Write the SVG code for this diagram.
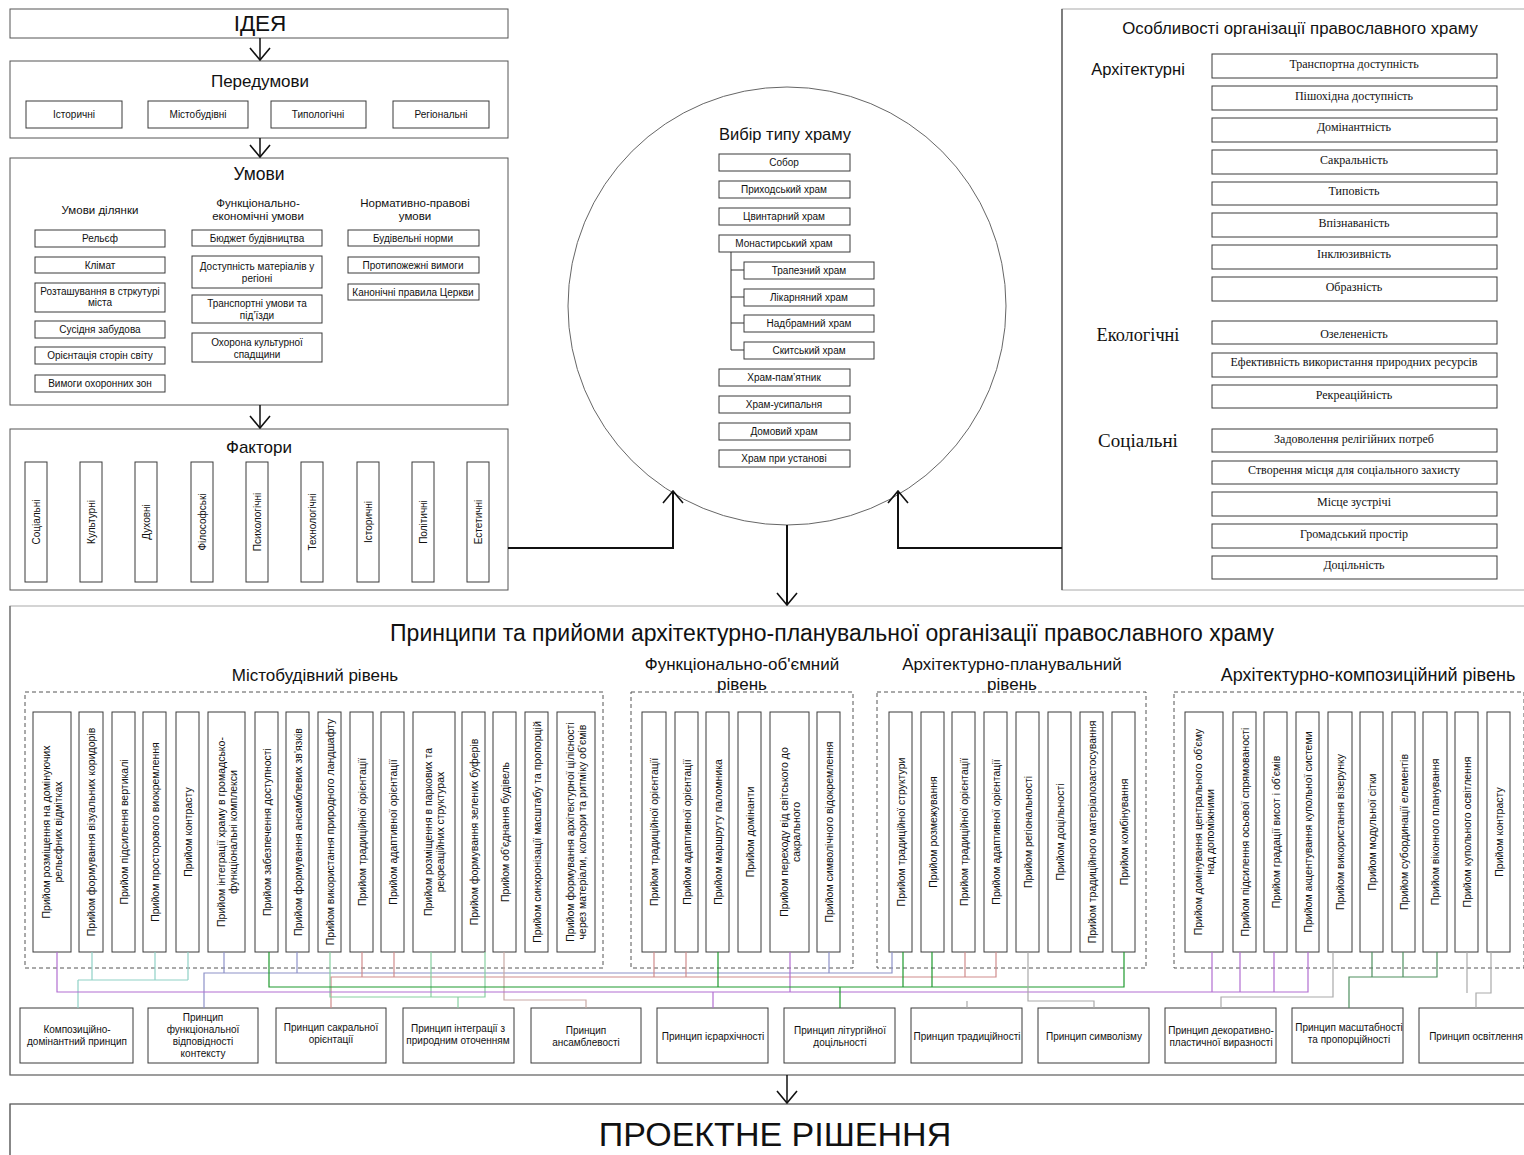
<svg xmlns="http://www.w3.org/2000/svg" width="1524" height="1155" viewBox="0 0 1524 1155">
<style>
.bg{fill:#fff}
.panel{fill:none;stroke:#555;stroke-width:1}
.lpanel{fill:none;stroke:#aaa;stroke-width:1}
.box{fill:#fff;stroke:#3a3a3a;stroke-width:1}
.dash{fill:none;stroke:#555;stroke-width:1;stroke-dasharray:4 3}
text{font-family:"Liberation Sans",Arial,sans-serif;fill:#111}
.serif{font-family:"Liberation Serif","Times New Roman",serif}
.s10{font-size:10px}
.s105{font-size:10.5px}
.s11{font-size:11px}
.s115{font-size:11.5px}
.s12{font-size:12px}
.s17{font-size:17px}
.c{text-anchor:middle}
.arrow{fill:none;stroke:#111;stroke-width:1.5}
.main{fill:none;stroke:#111;stroke-width:2}
.cn{fill:none;stroke-width:1.2}
</style>
<defs>
<marker id="v" viewBox="0 0 14 22" refX="13" refY="11" markerWidth="14" markerHeight="22" markerUnits="userSpaceOnUse" orient="auto">
<path d="M1,1 L13,11 L1,21" fill="none" stroke="#111" stroke-width="1.6"/>
</marker>
</defs>
<rect class="bg" x="0" y="0" width="1524" height="1155"/>

<!-- ІДЕЯ -->
<g id="idea">
<rect class="panel" x="10" y="9" width="498" height="29"/>
<text class="c" x="260" y="31" style="font-size:22.5px">ІДЕЯ</text>
</g>

<!-- Передумови -->
<g id="peredumovy">
<rect class="panel" x="10" y="61" width="498" height="77"/>
<text class="c s17" x="260" y="87">Передумови</text>
<rect class="box" x="26" y="101" width="96" height="27"/>
<text class="c s10" x="74" y="118">Історичні</text>
<rect class="box" x="148" y="101" width="100" height="27"/>
<text class="c s10" x="198" y="118">Містобудівні</text>
<rect class="box" x="271" y="101" width="95" height="27"/>
<text class="c s10" x="318" y="118">Типологічні</text>
<rect class="box" x="393" y="101" width="96" height="27"/>
<text class="c s10" x="441" y="118">Регіональні</text>
</g>

<!-- Умови -->
<g id="umovy">
<rect class="panel" x="10" y="158" width="498" height="247"/>
<text class="c" x="259" y="180" style="font-size:17.5px">Умови</text>
<text class="c s115" x="100" y="214">Умови ділянки</text>
<text class="c s115" x="258" y="207">Функціонально-</text>
<text class="c s115" x="258" y="220">економічні умови</text>
<text class="c s115" x="415" y="207">Нормативно-правові</text>
<text class="c s115" x="415" y="220">умови</text>
<rect class="box" x="35" y="230" width="130" height="17"/><text class="c s10" x="100" y="242">Рельєф</text>
<rect class="box" x="35" y="257" width="130" height="16"/><text class="c s10" x="100" y="269">Клімат</text>
<rect class="box" x="35" y="283" width="130" height="29"/><text class="c s10" x="100" y="295">Розташування в стркутурі</text><text class="c s10" x="100" y="306">міста</text>
<rect class="box" x="35" y="321" width="130" height="17"/><text class="c s10" x="100" y="333">Сусідня забудова</text>
<rect class="box" x="35" y="347" width="130" height="17"/><text class="c s10" x="100" y="359">Орієнтація сторін світу</text>
<rect class="box" x="35" y="375" width="130" height="17"/><text class="c s10" x="100" y="387">Вимоги охоронних зон</text>
<rect class="box" x="192" y="230" width="130" height="16"/><text class="c s10" x="257" y="242">Бюджет будівництва</text>
<rect class="box" x="192" y="256" width="130" height="32"/><text class="c s10" x="257" y="270">Доступність матеріалів у</text><text class="c s10" x="257" y="282">регіоні</text>
<rect class="box" x="192" y="295" width="130" height="28"/><text class="c s10" x="257" y="307">Транспортні умови та</text><text class="c s10" x="257" y="319">під’їзди</text>
<rect class="box" x="192" y="333" width="130" height="29"/><text class="c s10" x="257" y="346">Охорона культурної</text><text class="c s10" x="257" y="358">спадщини</text>
<rect class="box" x="348" y="230" width="131" height="16"/><text class="c s10" x="413" y="242">Будівельні норми</text>
<rect class="box" x="348" y="257" width="131" height="16"/><text class="c s10" x="413" y="269">Протипожежні вимоги</text>
<rect class="box" x="348" y="284" width="131" height="16"/><text class="c s10" x="413" y="296">Канонічні правила Церкви</text>
</g>

<!-- Фактори -->
<g id="faktory">
<rect class="panel" x="10" y="429" width="498" height="161"/>
<text class="c s17" x="259" y="453">Фактори</text>
<rect class="box" x="25" y="462" width="22" height="120"/><text class="c s10" transform="translate(36,522) rotate(-90)" dy="3.5">Соціальні</text>
<rect class="box" x="80" y="462" width="22" height="120"/><text class="c s10" transform="translate(91,522) rotate(-90)" dy="3.5">Культурні</text>
<rect class="box" x="135" y="462" width="22" height="120"/><text class="c s10" transform="translate(146,522) rotate(-90)" dy="3.5">Духовні</text>
<rect class="box" x="191" y="462" width="22" height="120"/><text class="c s10" transform="translate(202,522) rotate(-90)" dy="3.5">Філософські</text>
<rect class="box" x="246" y="462" width="22" height="120"/><text class="c s10" transform="translate(257,522) rotate(-90)" dy="3.5">Психологічні</text>
<rect class="box" x="301" y="462" width="22" height="120"/><text class="c s10" transform="translate(312,522) rotate(-90)" dy="3.5">Технологічні</text>
<rect class="box" x="357" y="462" width="22" height="120"/><text class="c s10" transform="translate(368,522) rotate(-90)" dy="3.5">Історичні</text>
<rect class="box" x="412" y="462" width="22" height="120"/><text class="c s10" transform="translate(423,522) rotate(-90)" dy="3.5">Політичні</text>
<rect class="box" x="467" y="462" width="22" height="120"/><text class="c s10" transform="translate(478,522) rotate(-90)" dy="3.5">Естетичні</text>
</g>

<!-- Вибір типу храму -->
<g id="vybir">
<circle cx="787" cy="306" r="219" fill="none" stroke="#666" stroke-width="1"/>
<text class="c" x="785" y="140" style="font-size:16.5px">Вибір типу храму</text>
<rect class="box" x="719" y="154" width="131" height="17"/><text class="c s10" x="784" y="166">Собор</text>
<rect class="box" x="719" y="181" width="131" height="17"/><text class="c s10" x="784" y="193">Приходський храм</text>
<rect class="box" x="719" y="208" width="131" height="17"/><text class="c s10" x="784" y="220">Цвинтарний храм</text>
<rect class="box" x="719" y="235" width="131" height="17"/><text class="c s10" x="784" y="247">Монастирський храм</text>
<path d="M731,252 V350 M731,270 H744 M731,297 H744 M731,323 H744 M731,350 H744" fill="none" stroke="#333" stroke-width="1"/>
<rect class="box" x="744" y="262" width="130" height="17"/><text class="c s10" x="809" y="274">Трапезний храм</text>
<rect class="box" x="744" y="289" width="130" height="17"/><text class="c s10" x="809" y="301">Лікарняний храм</text>
<rect class="box" x="744" y="315" width="130" height="17"/><text class="c s10" x="809" y="327">Надбрамний храм</text>
<rect class="box" x="744" y="342" width="130" height="17"/><text class="c s10" x="809" y="354">Скитський храм</text>
<rect class="box" x="719" y="369" width="131" height="17"/><text class="c s10" x="784" y="381">Храм-пам’ятник</text>
<rect class="box" x="719" y="396" width="131" height="17"/><text class="c s10" x="784" y="408">Храм-усипальня</text>
<rect class="box" x="719" y="423" width="131" height="17"/><text class="c s10" x="784" y="435">Домовий храм</text>
<rect class="box" x="719" y="450" width="131" height="17"/><text class="c s10" x="784" y="462">Храм при установі</text>
</g>

<!-- Особливості -->
<g id="osoblyvosti">
<rect class="lpanel" x="1062" y="9" width="470" height="581"/>
<path d="M1062,9 V590" stroke="#444" stroke-width="1.2" fill="none"/>
<text class="c" x="1300" y="34" style="font-size:16.8px">Особливості організації православного храму</text>
<text class="c" x="1138" y="75" style="font-size:16.5px">Архітектурні</text>
<text class="c serif" x="1138" y="341" style="font-size:18.3px">Екологічні</text>
<text class="c serif" x="1138" y="447" style="font-size:19px">Соціальні</text>
<rect class="box" x="1212" y="54" width="285" height="24"/><text class="c s12 serif" x="1354" y="68">Транспортна доступність</text>
<rect class="box" x="1212" y="86" width="285" height="24"/><text class="c s12 serif" x="1354" y="100">Пішохідна доступність</text>
<rect class="box" x="1212" y="118" width="285" height="24"/><text class="c s12 serif" x="1354" y="131">Домінантність</text>
<rect class="box" x="1212" y="150" width="285" height="24"/><text class="c s12 serif" x="1354" y="164">Сакральність</text>
<rect class="box" x="1212" y="182" width="285" height="23"/><text class="c s12 serif" x="1354" y="195">Типовість</text>
<rect class="box" x="1212" y="213" width="285" height="24"/><text class="c s12 serif" x="1354" y="227">Впізнаваність</text>
<rect class="box" x="1212" y="245" width="285" height="24"/><text class="c s12 serif" x="1354" y="258">Інклюзивність</text>
<rect class="box" x="1212" y="277" width="285" height="24"/><text class="c s12 serif" x="1354" y="291">Образність</text>
<rect class="box" x="1212" y="321" width="285" height="23"/><text class="c s12 serif" x="1354" y="338">Озелененість</text>
<rect class="box" x="1212" y="353" width="285" height="24"/><text class="c s12 serif" x="1354" y="366">Ефективність використання природних ресурсів</text>
<rect class="box" x="1212" y="385" width="285" height="23"/><text class="c s12 serif" x="1354" y="399">Рекреаційність</text>
<rect class="box" x="1212" y="429" width="285" height="23"/><text class="c s12 serif" x="1354" y="443">Задоволення релігійних потреб</text>
<rect class="box" x="1212" y="461" width="285" height="23"/><text class="c s12 serif" x="1354" y="474">Створення місця для соціального захисту</text>
<rect class="box" x="1212" y="492" width="285" height="24"/><text class="c s12 serif" x="1354" y="506">Місце зустрічі</text>
<rect class="box" x="1212" y="524" width="285" height="24"/><text class="c s12 serif" x="1354" y="538">Громадський простір</text>
<rect class="box" x="1212" y="556" width="285" height="23"/><text class="c s12 serif" x="1354" y="569">Доцільність</text>
</g>

<!-- Принципи та прийоми -->
<g id="pryntsypy">
<rect class="lpanel" x="10" y="606" width="1520" height="469"/>
<path d="M10,606 V1075 H1524" stroke="#666" stroke-width="1.2" fill="none"/>
<text class="c" x="832" y="641" style="font-size:23px">Принципи та прийоми архітектурно-планувальної організації православного храму</text>
<text class="c s17" x="315" y="681">Містобудівний рівень</text>
<text class="c s17" x="742" y="670">Функціонально-об'ємний</text>
<text class="c s17" x="742" y="690">рівень</text>
<text class="c s17" x="1012" y="670">Архітектурно-планувальний</text>
<text class="c s17" x="1012" y="690">рівень</text>
<text class="c" x="1368" y="681" style="font-size:18px">Архітектурно-композиційний рівень</text>
<rect class="dash" x="25" y="692" width="578" height="276"/>
<rect class="dash" x="631" y="692" width="222" height="276"/>
<rect class="dash" x="877" y="692" width="269" height="276"/>
<rect class="dash" x="1174" y="692" width="350" height="276"/>
</g>

<!-- Містобудівний рівень: прийоми -->
<g id="mistobud">
<rect class="box" x="33" y="712" width="38" height="240"/><text class="c s105" transform="translate(52,832) rotate(-90)"><tspan x="0" dy="-2">Прийом розміщення на домінуючих</tspan><tspan x="0" dy="12">рельєфних відмітках</tspan></text>
<rect class="box" x="79" y="712" width="24" height="240"/><text class="c s105" transform="translate(91,832) rotate(-90)" dy="4">Прийом формування візуальних коридорів</text>
<rect class="box" x="112" y="712" width="23" height="240"/><text class="c s105" transform="translate(123.5,832) rotate(-90)" dy="4">Прийом підсилення вертикалі</text>
<rect class="box" x="143" y="712" width="23" height="240"/><text class="c s105" transform="translate(154.5,832) rotate(-90)" dy="4">Прийом просторового виокремлення</text>
<rect class="box" x="176" y="712" width="23" height="240"/><text class="c s105" transform="translate(187.5,832) rotate(-90)" dy="4">Прийом контрасту</text>
<rect class="box" x="208" y="712" width="37" height="240"/><text class="c s105" transform="translate(226.5,832) rotate(-90)"><tspan x="0" dy="-2">Прийом інтеграції храму в громадсько-</tspan><tspan x="0" dy="12">функціональні комплекси</tspan></text>
<rect class="box" x="255" y="712" width="23" height="240"/><text class="c s105" transform="translate(266.5,832) rotate(-90)" dy="4">Прийом забезпечення доступності</text>
<rect class="box" x="286" y="712" width="23" height="240"/><text class="c s105" transform="translate(297.5,832) rotate(-90)" dy="4">Прийом формування ансамблевих зв'язків</text>
<rect class="box" x="318" y="712" width="23" height="240"/><text class="c s105" transform="translate(329.5,832) rotate(-90)" dy="4">Прийом використання природного ландшафту</text>
<rect class="box" x="350" y="712" width="23" height="240"/><text class="c s105" transform="translate(361.5,832) rotate(-90)" dy="4">Прийом традиційної орієнтації</text>
<rect class="box" x="381" y="712" width="23" height="240"/><text class="c s105" transform="translate(392.5,832) rotate(-90)" dy="4">Прийом адаптивної орієнтації</text>
<rect class="box" x="413" y="712" width="42" height="240"/><text class="c s105" transform="translate(434,832) rotate(-90)"><tspan x="0" dy="-2">Прийом розміщення в паркових та</tspan><tspan x="0" dy="12">рекреаційних структурах</tspan></text>
<rect class="box" x="462" y="712" width="23" height="240"/><text class="c s105" transform="translate(473.5,832) rotate(-90)" dy="4">Прийом формування зелених буферів</text>
<rect class="box" x="493" y="712" width="23" height="240"/><text class="c s105" transform="translate(504.5,832) rotate(-90)" dy="4">Прийом об'єднання будівель</text>
<rect class="box" x="525" y="712" width="23" height="240"/><text class="c s105" transform="translate(536.5,832) rotate(-90)" dy="4">Прийом синхронізації масштабу та пропорцій</text>
<rect class="box" x="557" y="712" width="38" height="240"/><text class="c s105" transform="translate(576,832) rotate(-90)"><tspan x="0" dy="-2">Прийом формування архітектурної цілісності</tspan><tspan x="0" dy="12">через матеріали, кольори та ритміку об'ємів</tspan></text>
</g>

<!-- Функціонально-об'ємний рівень -->
<g id="funkts">
<rect class="box" x="642" y="712" width="24" height="240"/><text class="c s105" transform="translate(654,832) rotate(-90)" dy="4">Прийом традиційної орієнтації</text>
<rect class="box" x="675" y="712" width="23" height="240"/><text class="c s105" transform="translate(686.5,832) rotate(-90)" dy="4">Прийом адаптивної орієнтації</text>
<rect class="box" x="706" y="712" width="23" height="240"/><text class="c s105" transform="translate(717.5,832) rotate(-90)" dy="4">Прийом маршруту паломника</text>
<rect class="box" x="738" y="712" width="23" height="240"/><text class="c s105" transform="translate(749.5,832) rotate(-90)" dy="4">Прийом домінанти</text>
<rect class="box" x="770" y="712" width="39" height="240"/><text class="c s105" transform="translate(789.5,832) rotate(-90)"><tspan x="0" dy="-2">Прийом переходу від світського до</tspan><tspan x="0" dy="12">сакрального</tspan></text>
<rect class="box" x="817" y="712" width="23" height="240"/><text class="c s105" transform="translate(828.5,832) rotate(-90)" dy="4">Прийом символічного відокремлення</text>
</g>

<!-- Архітектурно-планувальний рівень -->
<g id="arkhplan">
<rect class="box" x="889" y="712" width="23" height="240"/><text class="c s105" transform="translate(900.5,832) rotate(-90)" dy="4">Прийом традиційної структури</text>
<rect class="box" x="921" y="712" width="23" height="240"/><text class="c s105" transform="translate(932.5,832) rotate(-90)" dy="4">Прийом розмежування</text>
<rect class="box" x="952" y="712" width="23" height="240"/><text class="c s105" transform="translate(963.5,832) rotate(-90)" dy="4">Прийом традиційної орієнтації</text>
<rect class="box" x="984" y="712" width="23" height="240"/><text class="c s105" transform="translate(995.5,832) rotate(-90)" dy="4">Прийом адаптивної орієнтації</text>
<rect class="box" x="1016" y="712" width="23" height="240"/><text class="c s105" transform="translate(1027.5,832) rotate(-90)" dy="4">Прийом регіональності</text>
<rect class="box" x="1048" y="712" width="23" height="240"/><text class="c s105" transform="translate(1059.5,832) rotate(-90)" dy="4">Прийом доцільності</text>
<rect class="box" x="1080" y="712" width="23" height="240"/><text class="c s105" transform="translate(1091.5,832) rotate(-90)" dy="4">Прийом традиційного матеріалозастосування</text>
<rect class="box" x="1112" y="712" width="23" height="240"/><text class="c s105" transform="translate(1123.5,832) rotate(-90)" dy="4">Прийом комбінування</text>
</g>

<!-- Архітектурно-композиційний рівень -->
<g id="arkhkomp">
<rect class="box" x="1185" y="712" width="38" height="240"/><text class="c s105" transform="translate(1204,832) rotate(-90)"><tspan x="0" dy="-2">Прийом домінування центрального об'єму</tspan><tspan x="0" dy="12">над допоміжними</tspan></text>
<rect class="box" x="1233" y="712" width="23" height="240"/><text class="c s105" transform="translate(1244.5,832) rotate(-90)" dy="4">Прийом підсилення осьової спрямованості</text>
<rect class="box" x="1264" y="712" width="23" height="240"/><text class="c s105" transform="translate(1275.5,832) rotate(-90)" dy="4">Прийом градації висот і об'ємів</text>
<rect class="box" x="1296" y="712" width="23" height="240"/><text class="c s105" transform="translate(1307.5,832) rotate(-90)" dy="4">Прийом акцентування купольної системи</text>
<rect class="box" x="1328" y="712" width="24" height="240"/><text class="c s105" transform="translate(1340,832) rotate(-90)" dy="4">Прийом використання візерунку</text>
<rect class="box" x="1360" y="712" width="23" height="240"/><text class="c s105" transform="translate(1371.5,832) rotate(-90)" dy="4">Прийом модульної сітки</text>
<rect class="box" x="1392" y="712" width="23" height="240"/><text class="c s105" transform="translate(1403.5,832) rotate(-90)" dy="4">Прийом субординації елементів</text>
<rect class="box" x="1423" y="712" width="24" height="240"/><text class="c s105" transform="translate(1435,832) rotate(-90)" dy="4">Прийом віконного планування</text>
<rect class="box" x="1455" y="712" width="23" height="240"/><text class="c s105" transform="translate(1466.5,832) rotate(-90)" dy="4">Прийом купольного освітлення</text>
<rect class="box" x="1487" y="712" width="23" height="240"/><text class="c s105" transform="translate(1498.5,832) rotate(-90)" dy="4">Прийом контрасту</text>
</g>

<!-- Принципи (нижній ряд) -->
<g id="pr-1"><rect class="box" x="20" y="1008" width="113" height="55"/><text class="c s10" x="77" y="1033">Композиційно-</text><text class="c s10" x="77" y="1045">домінантний принцип</text></g>
<g id="pr-2"><rect class="box" x="148" y="1008" width="110" height="55"/><text class="c s10" x="203" y="1021">Принцип</text><text class="c s10" x="203" y="1033">функціональної</text><text class="c s10" x="203" y="1045">відповідності</text><text class="c s10" x="203" y="1057">контексту</text></g>
<g id="pr-3"><rect class="box" x="276" y="1008" width="110" height="55"/><text class="c s10" x="331" y="1031">Принцип сакральної</text><text class="c s10" x="331" y="1043">орієнтації</text></g>
<g id="pr-4"><rect class="box" x="403" y="1008" width="111" height="55"/><text class="c s10" x="458" y="1032">Принцип інтеграції з</text><text class="c s10" x="458" y="1044">природним оточенням</text></g>
<g id="pr-5"><rect class="box" x="531" y="1008" width="110" height="55"/><text class="c s10" x="586" y="1034">Принцип</text><text class="c s10" x="586" y="1046">ансамблевості</text></g>
<g id="pr-6"><rect class="box" x="657" y="1008" width="111" height="55"/><text class="c s10" x="713" y="1040">Принцип ієрархічності</text></g>
<g id="pr-7"><rect class="box" x="784" y="1008" width="111" height="55"/><text class="c s10" x="840" y="1034">Принцип літургійної</text><text class="c s10" x="840" y="1046">доцільності</text></g>
<g id="pr-8"><rect class="box" x="911" y="1008" width="111" height="55"/><text class="c s10" x="967" y="1040">Принцип традиційності</text></g>
<g id="pr-9"><rect class="box" x="1038" y="1008" width="111" height="55"/><text class="c s10" x="1094" y="1040">Принцип символізму</text></g>
<g id="pr-10"><rect class="box" x="1165" y="1008" width="111" height="55"/><text class="c s10" x="1221" y="1034">Принцип декоративно-</text><text class="c s10" x="1221" y="1046">пластичної виразності</text></g>
<g id="pr-11"><rect class="box" x="1292" y="1008" width="111" height="55"/><text class="c s10" x="1349" y="1031">Принцип масштабності</text><text class="c s10" x="1349" y="1043">та пропорційності</text></g>
<g id="pr-12"><rect class="box" x="1419" y="1008" width="111" height="55"/><text class="c s10" x="1476" y="1040">Принцип освітлення</text></g>

<!-- ПРОЕКТНЕ РІШЕННЯ -->
<g id="rishennia">
<rect class="lpanel" x="10" y="1104" width="1520" height="60"/>
<path d="M10,1155 V1104 H1524" stroke="#555" stroke-width="1.2" fill="none"/>
<text class="c" x="775" y="1146" style="font-size:34px">ПРОЕКТНЕ РІШЕННЯ</text>
</g>

<!-- Connectors -->
<g id="connectors">
<path class="arrow" d="M260,38 V60" marker-end="url(#v)"/>
<path class="arrow" d="M260,138 V157" marker-end="url(#v)"/>
<path class="arrow" d="M260,405 V428" marker-end="url(#v)"/>
<path class="main" d="M508,548 H673 V491" marker-end="url(#v)"/>
<path class="main" d="M1062,548 H898 V491" marker-end="url(#v)"/>
<path class="main" d="M787,525 V605" marker-end="url(#v)"/>
<path class="arrow" d="M787,1075 V1103" marker-end="url(#v)"/>

<path class="cn" stroke="#8fd1c6" d="M78,1008 V980 M92,952 V980 M155,952 V980 M188,952 V980 M78,980 H188"/>
<path class="cn" stroke="#8e92c8" d="M204,1008 V973 H892 V952 M224,952 V973 M297,952 V973 M829,952 V973"/>
<path class="cn" stroke="#d08c8c" d="M331,1008 V977 H996 V952 M362,952 V977 M394,952 V977 M654,952 V977 M686,952 V977 M965,952 V977"/>
<path class="cn" stroke="#86cfa0" d="M431,952 V997 H485 V952 M458,997 V1008 M330,952 V997 H431"/>
<path class="cn" stroke="#c9aaa5" stroke-width="1.6" d="M504,952 V1000 H586 V1008"/>
<path class="cn" stroke="#b26fd1" stroke-width="1.6" d="M57,952 V992 H1308 V952 M1212,952 V992 M1240,952 V992 M1274,952 V992 M790,952 V992 M713,992 V1008"/>
<path class="cn" stroke="#1e9a2e" stroke-width="2.2" d="M269,952 V987 H1124 V952 M718,952 V987 M903,952 V987 M932,952 V987 M840,987 V1008"/>
<path class="cn" stroke="#aaaaaa" d="M967,1008 V1001 M1094,1008 V1001 H1028 V952 M1221,1008 V997 H1333 V952"/>
<path class="cn" stroke="#4f8f5f" d="M1349,1008 V977 H1437 V952 M1372,952 V977 M1403,952 V977"/>
<path class="cn" stroke="#aaaaaa" d="M1476,1008 V993 H1491 V952 M1467,952 V993"/>
</g>
</svg>
